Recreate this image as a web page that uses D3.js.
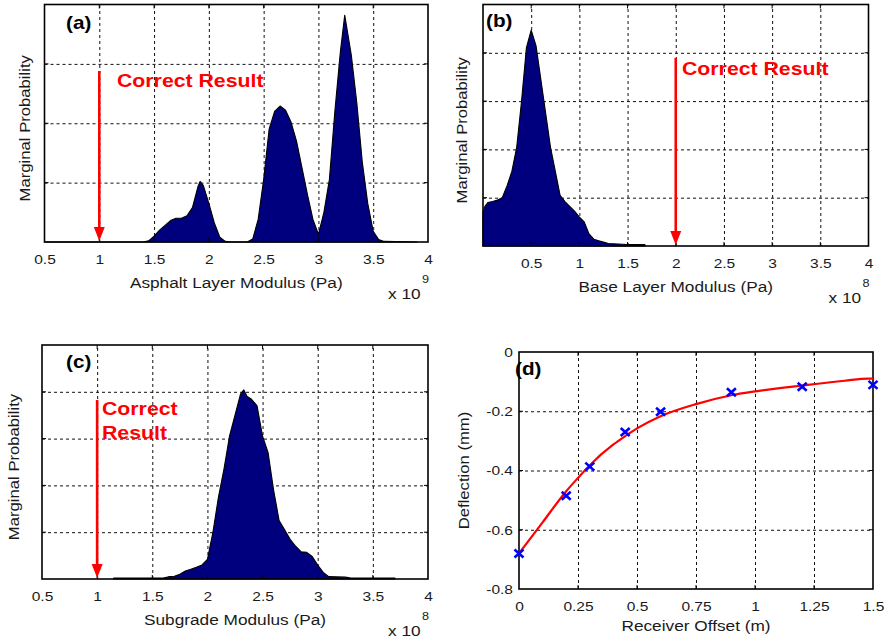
<!DOCTYPE html>
<html>
<head>
<meta charset="utf-8">
<script src="https://cdn.jsdelivr.net/npm/d3@7"></script>
<style>
  html, body { margin: 0; padding: 0; background: #fff; }
  svg { display: block; }
</style>
</head>
<body>
<svg id="fig" width="890" height="642"></svg>
<script>
// ---- data -------------------------------------------------------------
// (a) asphalt layer modulus (x 1e9 Pa) and its marginal probability
const asphaltModulus = [0.5, 1.0, 1.4, 1.45, 1.5, 1.55, 1.6, 1.65, 1.7, 1.75, 1.8, 1.85, 1.9, 1.92, 1.95, 2.0, 2.05, 2.1, 2.15, 2.2, 2.35, 2.4, 2.45, 2.5, 2.55, 2.6, 2.65, 2.7, 2.75, 2.8, 2.85, 2.9, 2.95, 3.0, 3.05, 3.1, 3.15, 3.2, 3.24, 3.3, 3.35, 3.4, 3.45, 3.5, 3.55, 3.6, 3.9];
const asphaltProb    = [0, 0, 0, 0.02, 0.10, 0.20, 0.28, 0.36, 0.40, 0.40, 0.44, 0.58, 0.93, 1.02, 0.95, 0.65, 0.32, 0.08, 0.01, 0, 0, 0.05, 0.38, 1.05, 1.90, 2.20, 2.29, 2.22, 2.02, 1.70, 1.25, 0.80, 0.38, 0.13, 0.50, 1.05, 2.20, 3.20, 3.82, 3.15, 2.35, 1.35, 0.65, 0.18, 0.04, 0.01, 0];

// (b) base layer modulus (x 1e8 Pa)
const baseModulus = [0.0, 0.02, 0.05, 0.1, 0.15, 0.2, 0.25, 0.3, 0.35, 0.4, 0.45, 0.5, 0.55, 0.6, 0.65, 0.7, 0.75, 0.8, 0.85, 0.9, 0.95, 1.0, 1.05, 1.1, 1.15, 1.2, 1.25, 1.3, 1.4, 1.5, 1.6, 1.68];
const baseProb    = [0.70, 0.82, 0.90, 0.92, 0.95, 1.00, 1.25, 1.55, 2.05, 3.0, 4.1, 4.47, 4.15, 3.45, 2.75, 2.05, 1.55, 1.05, 0.92, 0.82, 0.72, 0.60, 0.50, 0.25, 0.14, 0.11, 0.08, 0.05, 0.04, 0.03, 0.03, 0.03];

// (c) subgrade modulus (x 1e8 Pa)
const subgradeModulus = [1.15, 1.6, 1.65, 1.7, 1.75, 1.8, 1.85, 1.9, 1.95, 2.0, 2.05, 2.1, 2.15, 2.2, 2.25, 2.3, 2.33, 2.36, 2.4, 2.45, 2.5, 2.55, 2.6, 2.65, 2.7, 2.75, 2.8, 2.85, 2.9, 2.95, 3.0, 3.05, 3.1, 3.25, 3.3, 3.7];
const subgradeProb    = [0.02, 0.02, 0.05, 0.06, 0.10, 0.17, 0.21, 0.25, 0.30, 0.42, 1.0, 1.75, 2.35, 3.05, 3.5, 3.95, 4.04, 3.9, 3.84, 3.70, 3.05, 2.70, 1.90, 1.25, 1.05, 0.85, 0.70, 0.58, 0.57, 0.48, 0.30, 0.14, 0.05, 0.04, 0.02, 0.02];

// (d) measured deflections and fitted deflection curve
const receiverOffset     = [0, 0.2, 0.3, 0.45, 0.6, 0.9, 1.2, 1.5];
const measuredDeflection = [-0.68, -0.485, -0.387, -0.27, -0.202, -0.136, -0.117, -0.111];
const fitOffset     = [0, 0.1, 0.2, 0.25, 0.3, 0.4, 0.45, 0.5, 0.6, 0.75, 0.9, 1.0, 1.2, 1.38, 1.48, 1.5];
const fitDeflection = [-0.68, -0.575, -0.47, -0.425, -0.382, -0.312, -0.284, -0.258, -0.217, -0.176, -0.146, -0.133, -0.113, -0.097, -0.090, -0.090];

// tick values
const modulusTicks = [0.5, 1, 1.5, 2, 2.5, 3, 3.5, 4];
const offsetTicks = [0, 0.25, 0.5, 0.75, 1, 1.25, 1.5];
const deflectionTicks = [0, -0.2, -0.4, -0.6, -0.8];

// true values marked with the red arrows
const trueAsphalt = 1, trueBase = 2, trueSubgrade = 1;

// ---- helpers ---------------------------------------------------------
const svg = d3.select("#fig");
svg.append("rect").attr("width", 890).attr("height", 642).attr("fill", "#fff");
const FONT = "Arial, 'Liberation Sans', Helvetica, sans-serif";
const WIDEN = 1.15;

// widen glyphs along the text direction
function widen(sel, rot) {
  sel.each(function () {
    const t = d3.select(this);
    const x = +t.attr("x") || 0, y = +t.attr("y") || 0;
    t.attr("x", 0).attr("y", 0)
     .attr("transform", `translate(${x},${y})${rot ? ` rotate(${rot})` : ""} scale(${WIDEN},1)`);
  });
}

function frame(p) {
  const g = svg.append("g");
  const x = d3.scaleLinear().domain(p.xDomain).range([p.left, p.right]);
  const y = d3.scaleLinear().domain(p.yDomain).range([p.bottom, p.top]);
  const h = p.bottom - p.top, w = p.right - p.left;

  // dashed grid
  const gx = g.append("g").attr("transform", `translate(0,${p.bottom})`)
    .call(d3.axisBottom(x).tickValues(p.xGrid).tickSize(-h).tickFormat(""));
  const gy = g.append("g").attr("transform", `translate(${p.left},0)`)
    .call(d3.axisLeft(y).tickValues(p.yGrid).tickSize(-w).tickFormat(""));
  [gx, gy].forEach(a => {
    a.select(".domain").remove();
    a.selectAll("line").attr("stroke", "#111").attr("stroke-width", 1).attr("stroke-dasharray", "3,3");
  });
  return { g, x, y };
}

function box(g, p, x, y) {
  // short inward ticks on all four sides
  const t = g.append("g").attr("stroke", "#000").attr("stroke-width", 1);
  p.xGrid.forEach(v => {
    t.append("line").attr("x1", x(v)).attr("x2", x(v)).attr("y1", p.bottom).attr("y2", p.bottom - 4);
    t.append("line").attr("x1", x(v)).attr("x2", x(v)).attr("y1", p.top).attr("y2", p.top + 4);
  });
  p.yGrid.forEach(v => {
    t.append("line").attr("y1", y(v)).attr("y2", y(v)).attr("x1", p.left).attr("x2", p.left + 4);
    t.append("line").attr("y1", y(v)).attr("y2", y(v)).attr("x1", p.right).attr("x2", p.right - 4);
  });
  g.append("rect").attr("x", p.left).attr("y", p.top)
    .attr("width", p.right - p.left).attr("height", p.bottom - p.top)
    .attr("fill", "none").attr("stroke", "#000").attr("stroke-width", 1.6);
}

function xLabels(g, p, x, ticks, fmt) {
  const a = g.append("g").attr("transform", `translate(0,${p.bottom})`)
    .call(d3.axisBottom(x).tickValues(ticks).tickSize(0).tickFormat(fmt));
  a.select(".domain").remove();
  a.selectAll("text").attr("dy", null).attr("y", 22)
    .attr("font-family", FONT).attr("font-size", 13.5).attr("fill", "#1a1a1a");
  widen(a.selectAll("text"));
}

function texts(g, items) {
  items.forEach(it => {
    const t = g.append("text").attr("x", it.x).attr("y", it.y)
      .attr("font-family", FONT).attr("font-size", it.size)
      .attr("font-weight", it.bold ? "bold" : "normal")
      .attr("fill", it.color || "#1a1a1a")
      .attr("text-anchor", it.anchor || "start")
      .text(it.text);
    widen(t, it.rot);
  });
}

function arrow(g, xp, yTop, yTip) {
  g.append("line").attr("x1", xp).attr("x2", xp).attr("y1", yTop).attr("y2", yTip - 12)
    .attr("stroke", "#ff0000").attr("stroke-width", 2.6);
  g.append("path").attr("d", `M${xp - 5.5},${yTip - 14}L${xp + 5.5},${yTip - 14}L${xp},${yTip}Z`)
    .attr("fill", "#ff0000");
}

const areaGen = (x, y) => d3.area().x(d => x(d[0])).y0(y(0)).y1(d => y(d[1]));

function histPanel(p) {
  const { g, x, y } = frame(p);
  const pts = p.xs.map((v, i) => [v, p.ys[i]]);
  g.append("path").datum(pts).attr("d", areaGen(x, y))
    .attr("fill", "#00007f").attr("stroke", "#000").attr("stroke-width", 1.1)
    .attr("stroke-linejoin", "round");
  box(g, p, x, y);
  xLabels(g, p, x, modulusTicks, d => String(d));
  const xa = x(p.trueValue);
  arrow(g, xa, p.arrowTop, p.bottom - 1);
  texts(g, p.notes.map(n => Object.assign({ size: 18.5, bold: true, color: "#ff0000" }, n)));
  texts(g, [
    { text: p.panel, x: p.panelPos[0], y: p.panelPos[1], size: 18, bold: true, color: "#000" },
    { text: p.xTitle, x: (p.left + p.right) / 2, y: p.bottom + 46, size: 15, anchor: "middle" },
    { text: "Marginal Probability", x: p.yTitleX, y: (p.top + p.bottom) / 2 + 5, size: 14.5, anchor: "middle", rot: -90 },
    { text: "x 10", x: p.right - 40, y: p.bottom + 57, size: 15 },
    { text: p.exponent, x: p.right - 6, y: p.bottom + 41, size: 11 }
  ]);
}

// ---- (a) --------------------------------------------------------------
histPanel({
  left: 44.5, right: 428, top: 4.5, bottom: 242,
  xDomain: [0.5, 4], yDomain: [0, 4],
  xGrid: [1, 1.5, 2, 2.5, 3, 3.5], yGrid: [1, 2, 3],
  xs: asphaltModulus, ys: asphaltProb, trueValue: trueAsphalt,
  arrowTop: 71,
  notes: [{ text: "Correct Result", x: 117, y: 87 }],
  panel: "(a)", panelPos: [66, 29],
  xTitle: "Asphalt Layer Modulus (Pa)", yTitleX: 30, exponent: "9"
});

// ---- (b) --------------------------------------------------------------
histPanel({
  left: 483, right: 868.5, top: 4.5, bottom: 246,
  xDomain: [0, 4], yDomain: [0, 5],
  xGrid: [0.5, 1, 1.5, 2, 2.5, 3, 3.5], yGrid: [1, 2, 3, 4],
  xs: baseModulus, ys: baseProb, trueValue: trueBase,
  arrowTop: 58,
  notes: [{ text: "Correct Result", x: 682, y: 75 }],
  panel: "(b)", panelPos: [486, 27],
  xTitle: "Base Layer Modulus (Pa)", yTitleX: 467, exponent: "8"
});

// ---- (c) --------------------------------------------------------------
histPanel({
  left: 42, right: 428, top: 345, bottom: 579,
  xDomain: [0.5, 4], yDomain: [0, 5],
  xGrid: [1, 1.5, 2, 2.5, 3, 3.5], yGrid: [1, 2, 3, 4],
  xs: subgradeModulus, ys: subgradeProb, trueValue: trueSubgrade,
  arrowTop: 400,
  notes: [{ text: "Correct", x: 102, y: 415 }, { text: "Result", x: 102, y: 439 }],
  panel: "(c)", panelPos: [66, 368],
  xTitle: "Subgrade Modulus (Pa)", yTitleX: 19, exponent: "8"
});

// ---- (d) --------------------------------------------------------------
(function () {
  const p = {
    left: 519, right: 873, top: 352, bottom: 589,
    xDomain: [0, 1.5], yDomain: [-0.8, 0],
    xGrid: [0.25, 0.5, 0.75, 1, 1.25], yGrid: [-0.2, -0.4, -0.6]
  };
  const { g, x, y } = frame(p);
  box(g, p, x, y);

  const fit = fitOffset.map((v, i) => [v, fitDeflection[i]]);
  g.append("path").datum(fit)
    .attr("d", d3.line().x(d => x(d[0])).y(d => y(d[1])).curve(d3.curveMonotoneX))
    .attr("fill", "none").attr("stroke", "#ff0000").attr("stroke-width", 2.2);

  const meas = receiverOffset.map((v, i) => [v, measuredDeflection[i]]);
  g.append("g").selectAll("path").data(meas).join("path")
    .attr("transform", d => `translate(${x(d[0])},${y(d[1])})`)
    .attr("d", "M-4.5,-4L4.5,4M-4.5,4L4.5,-4")
    .attr("stroke", "#0000ff").attr("stroke-width", 2.6).attr("fill", "none");

  xLabels(g, p, x, offsetTicks, d => String(d));
  const ya = g.append("g").attr("transform", `translate(${p.left},0)`)
    .call(d3.axisLeft(y).tickValues(deflectionTicks).tickSize(0).tickFormat(d => String(d)));
  ya.select(".domain").remove();
  ya.selectAll("text").attr("x", -6).attr("font-family", FONT).attr("font-size", 13.5).attr("fill", "#1a1a1a");
  widen(ya.selectAll("text"));

  texts(g, [
    { text: "(d)", x: 515, y: 375, size: 18, bold: true, color: "#000" },
    { text: "Receiver Offset (m)", x: (p.left + p.right) / 2, y: 631, size: 15, anchor: "middle" },
    { text: "Deflection (mm)", x: 469, y: (p.top + p.bottom) / 2, size: 14.5, anchor: "middle", rot: -90 }
  ]);
})();
</script>
</body>
</html>
